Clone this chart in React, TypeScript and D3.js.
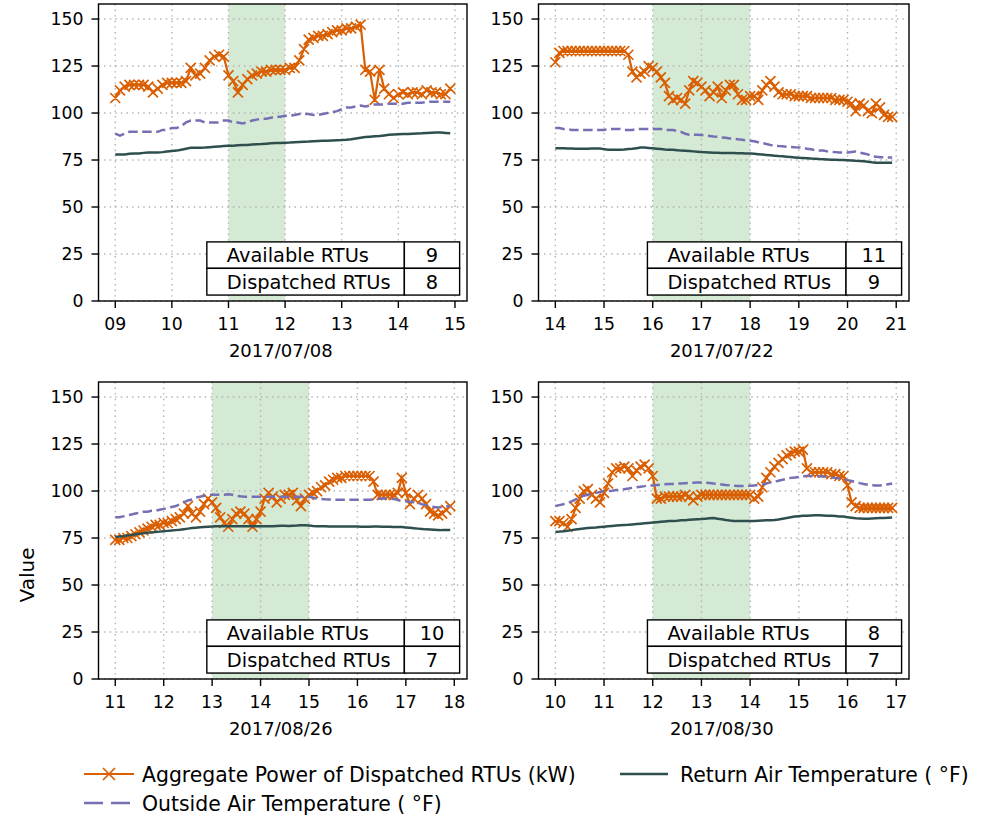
import React from "react";
import * as d3 from "d3";

// ---------- data ----------
const panelDates = ["2017/07/08", "2017/07/22", "2017/08/26", "2017/08/30"];
const startHours = [9, 14, 11, 10];
const xTickHours = [
  [9, 10, 11, 12, 13, 14, 15],
  [14, 15, 16, 17, 18, 19, 20, 21],
  [11, 12, 13, 14, 15, 16, 17, 18],
  [10, 11, 12, 13, 14, 15, 16, 17],
];
const xTickLabels = [
  ["09", "10", "11", "12", "13", "14", "15"],
  ["14", "15", "16", "17", "18", "19", "20", "21"],
  ["11", "12", "13", "14", "15", "16", "17", "18"],
  ["10", "11", "12", "13", "14", "15", "16", "17"],
];
const yTicks = [0, 25, 50, 75, 100, 125, 150];
const shadeStart = [11, 16, 13, 12];
const shadeEnd = [12, 18, 15, 14];
const availableRTUs = [9, 11, 10, 8];
const dispatchedRTUs = [8, 9, 7, 7];

// 5-minute samples
const power1 = [
  108, 112, 114, 115, 115, 115, 115, 114, 111, 113, 115, 116,
  116, 116, 116, 117, 124, 120, 121, 124, 128, 130, 131, 130,
  120, 117, 111, 115, 118, 120, 121, 122, 122, 123, 123, 123,
  123, 124, 124, 128, 134, 139, 140, 141, 141, 142, 143, 144,
  144, 145, 145, 146, 147, 123, 122, 107, 123, 113, 110, 108,
  110, 111, 110, 111, 111, 110, 112, 111, 111, 110, 110, 113,
];
const outside1 = [
  89, 88, 89, 90, 90, 90, 90, 90, 90, 90, 91, 91,
  92, 92, 93, 95, 96, 96, 96, 95, 95, 95, 95, 96,
  96, 95, 95, 94.5, 95, 96, 96.5, 97, 97, 97.5, 98, 98,
  98.5, 98.5, 99, 99.5, 99.5, 99.5, 99, 99, 99.5, 100, 100.5, 101,
  102, 103, 103, 103.5, 104, 103.5, 104, 104.5, 104.5, 104.5, 105, 105,
  105, 105, 105.5, 105.5, 105.5, 105.5, 106, 106, 106, 106, 106, 106,
];
const return1 = [
  78, 78, 78, 78.3, 78.5, 78.5, 78.8, 79, 79, 79, 79.2, 79.5,
  79.8, 80, 80.5, 81, 81.5, 81.5, 81.5, 81.6, 81.8, 82, 82.2, 82.4,
  82.6, 82.6, 82.8, 83, 83, 83.2, 83.4, 83.5, 83.7, 83.9, 84, 84.1,
  84.2, 84.3, 84.5, 84.6, 84.7, 84.8, 85, 85.1, 85.2, 85.3, 85.4, 85.5,
  85.6, 85.8, 86.1, 86.5, 86.9, 87.2, 87.4, 87.6, 87.8, 88.1, 88.4, 88.6,
  88.7, 88.8, 88.9, 89, 89.1, 89.2, 89.4, 89.5, 89.6, 89.6, 89.4, 89.2,
];

const power2 = [
  127, 132, 133, 133, 133, 133, 133, 133, 133, 133, 133, 133,
  133, 133, 133, 133, 133, 133, 131, 122, 119, 121, 122, 125,
  124, 122, 119, 116, 109, 107, 108, 107, 105, 112, 117, 116,
  114, 112, 109, 111, 114, 108, 112, 115, 115, 110, 107, 107,
  109, 109, 107, 112, 115, 117, 114, 111, 110, 110, 110, 109,
  109, 109, 109, 108, 108, 108, 108, 108, 108, 107, 107, 107,
  106, 105, 101, 105, 104, 101, 100, 105, 103, 99, 98, 98,
];
const outside2 = [
  92, 92, 91.5, 91.5, 91, 91, 91, 91, 91, 91, 91, 91,
  91, 91.5, 91.5, 91.5, 91.5, 91, 91, 91, 91.5, 91.5, 91.5, 91.5,
  91.5, 91.5, 91.5, 91, 91, 91, 90.5, 90, 89, 88.5, 88.5, 88.5,
  88.3, 88, 87.8, 87.5, 87.3, 87, 86.8, 86.5, 86.3, 86, 85.8, 85.5,
  85.3, 85, 84.5, 84, 83.5, 83, 82.8, 82.5, 82.3, 82, 82, 81.8,
  81.7, 81.5, 81, 80.7, 80.3, 80, 80, 79.6, 79.3, 79.2, 79, 79,
  79, 79.3, 79.5, 79, 78.5, 78, 77, 76.8, 76.5, 76.5, 76.3, 76.3,
];
const return2 = [
  81.2, 81.2, 81.2, 81.1, 81.1, 81, 81, 81, 81, 81.1, 81.1, 81.1,
  80.8, 80.5, 80.4, 80.4, 80.5, 80.6, 80.8, 81, 81.3, 81.6, 81.6, 81.4,
  81.2, 81, 80.8, 80.6, 80.5, 80.4, 80.2, 80, 79.9, 79.8, 79.6, 79.4,
  79.2, 79.1, 79, 78.9, 78.9, 78.8, 78.8, 78.7, 78.7, 78.6, 78.6, 78.5,
  78.5, 78.3, 78.1, 77.9, 77.7, 77.5, 77.3, 77.1, 77, 76.8, 76.6, 76.4,
  76.2, 76.1, 76, 75.8, 75.7, 75.5, 75.4, 75.3, 75.2, 75.1, 75, 75,
  74.9, 74.8, 74.6, 74.5, 74.3, 74.1, 73.8, 73.6, 73.5, 73.5, 73.6, 73.6,
];

const power3 = [
  74, 74, 75, 75, 76, 77, 78, 79, 80, 81, 82, 82,
  83, 83, 84, 85, 86, 88, 92, 88, 86, 89, 93, 96,
  94, 91, 86, 83, 81, 85, 88, 89, 88, 85, 81, 85,
  89, 96, 99, 97, 94, 96, 98, 98, 99, 95, 92, 96,
  98, 99, 100, 102, 103, 105, 106, 107, 107, 108, 108, 108,
  108, 108, 108, 108, 105, 98, 98, 98, 98, 98, 99, 107,
  99, 93, 96, 98, 96, 93, 89, 88, 87, 88, 90, 92,
];
const outside3 = [
  86, 86, 86.5, 87, 87.5, 88, 88.5, 89, 89, 89.5, 89.5, 90,
  90.5, 91, 91.5, 92, 93, 94, 95, 95.5, 96.5, 97, 97.5, 98,
  98, 98, 98, 98, 98.3, 98, 97.5, 97.2, 97, 97, 97, 97,
  97, 97, 97, 97, 97, 97, 97, 97, 97, 97, 97, 97,
  97, 96.5, 96, 95.8, 95.6, 95.5, 95.4, 95.3, 95.3, 95.3, 95.3, 95.3,
  95.3, 95.3, 95.3, 95.3, 95.5, 95.8, 96, 96, 96, 95.8, 95.2, 94.7,
  94.5, 94.3, 94, 93.8, 93, 92.5, 92, 91.5, 91.2, 91.5, 91.8, 92,
];
const return3 = [
  75.5, 75.8, 76, 76.3, 76.6, 77, 77.3, 77.5, 77.8, 78, 78.2, 78.4,
  78.6, 78.8, 79, 79.2, 79.4, 79.7, 80, 80.3, 80.5, 80.7, 80.9, 81,
  81.1, 81.2, 81.2, 81.3, 81.3, 81.3, 81.3, 81.2, 81.2, 81.2, 81.3, 81.3,
  81.3, 81.2, 81.2, 81.3, 81.4, 81.5, 81.5, 81.4, 81.5, 81.6, 81.8, 81.8,
  81.6, 81.4, 81.3, 81.2, 81.2, 81.1, 81.1, 81.1, 81.1, 81.1, 81.1, 81.1,
  81.1, 81, 81, 81, 81.1, 81.1, 81, 81, 81, 80.9, 80.8, 80.8,
  80.6, 80.4, 80.2, 80, 79.8, 79.6, 79.5, 79.4, 79.3, 79.2, 79.2, 79.2,
];

const power4 = [
  84, 84, 83, 81, 85, 91, 96, 100, 101, 98, 96, 94,
  99, 104, 110, 112, 112, 113, 112, 108, 111, 113, 114, 112,
  108, 96, 96, 97, 97, 97, 97, 97, 98, 97, 95, 97,
  98, 98, 98, 98, 98, 98, 98, 98, 98, 98, 98, 98,
  98, 96, 97, 102, 107, 110, 113, 115, 117, 119, 120, 121,
  121, 122, 112, 110, 110, 110, 110, 110, 109, 109, 108, 108,
  103, 94, 92, 91, 91, 91, 91, 91, 91, 91, 91, 91,
];
const outside4 = [
  92, 92.5, 93, 93.5, 94.5, 95.5, 96.5, 97.5, 98, 98.5, 99, 99.5,
  100, 100, 100.2, 100.5, 100.7, 101, 101.3, 101.7, 102, 102.3, 102.6, 103,
  103, 103.2, 103.4, 103.6, 103.7, 103.8, 104, 104, 104.2, 104.3, 104.4, 104.5,
  104.6, 104.5, 104.3, 104, 103.8, 103.5, 103.2, 103, 102.8, 102.7, 102.7, 102.7,
  102.8, 103, 103.2, 103.5, 104, 104.6, 105, 105.5, 106, 106.5, 107, 107.2,
  107.5, 107.8, 108, 108, 108, 107.8, 107.7, 107.5, 107.2, 107, 106.6, 106.3,
  105.8, 105.3, 104.8, 104.2, 103.7, 103.3, 103.1, 103, 103, 103.2, 103.6, 104,
];
const return4 = [
  78.2, 78.4, 78.6, 78.9, 79.2, 79.5, 79.8, 80.1, 80.3, 80.5, 80.6, 80.8,
  81, 81.2, 81.4, 81.6, 81.8, 81.9, 82, 82.2, 82.4, 82.6, 82.8, 83,
  83.2, 83.4, 83.6, 83.8, 84, 84.1, 84.2, 84.4, 84.5, 84.7, 84.9, 85,
  85.1, 85.3, 85.5, 85.6, 85.3, 85, 84.6, 84.3, 84.1, 84, 84, 84,
  84, 84.1, 84.2, 84.3, 84.4, 84.5, 84.6, 84.8, 85.2, 85.6, 86, 86.4,
  86.6, 86.8, 86.9, 87, 87.1, 87.1, 87, 86.9, 86.8, 86.7, 86.5, 86.4,
  86.1, 85.8, 85.5, 85.4, 85.3, 85.3, 85.4, 85.5, 85.6, 85.7, 85.8, 85.9,
];

const powerSeries = [power1, power2, power3, power4];
const outsideSeries = [outside1, outside2, outside3, outside4];
const returnSeries = [return1, return2, return3, return4];

const legendLabels = [
  "Aggregate Power of Dispatched RTUs (kW)",
  "Outside Air Temperature ( \u00B0F)",
  "Return Air Temperature ( \u00B0F)",
];

// ---------- styles ----------
const FONT = "DejaVu Sans, sans-serif";
const FS_TICK = 17.3;
const FS_DATE = 18;
const FS_TABLE = 19.4;
const FS_LEGEND = 20.4;
const FS_YLABEL = 20;
const C_POWER = "#d95f02";
const C_OUT = "#7570b3";
const C_RET = "#2f4f4f";
const C_SHADE = "rgb(213,234,212)";
const C_GRID = "#b0b0b0";

const W = 986;
const H = 817;
const panels = [
  { left: 98.5, top: 4, width: 368.5, height: 297 },
  { left: 538.5, top: 4, width: 370.5, height: 297 },
  { left: 98.5, top: 382, width: 368.5, height: 297 },
  { left: 538.5, top: 382, width: 370.5, height: 297 },
];

function xMark(cx: number, cy: number, r: number) {
  return `M${cx - r},${cy - r}L${cx + r},${cy + r}M${cx - r},${cy + r}L${cx + r},${cy - r}`;
}

function Panel({ idx }: { idx: number }) {
  const p = panels[idx];
  const n = powerSeries[idx].length;
  const times = d3.range(n).map((i) => startHours[idx] + (i * 5) / 60);
  const t0 = times[0];
  const t1 = times[n - 1];
  const m = (t1 - t0) * 0.05;
  const x = d3.scaleLinear().domain([t0 - m, t1 + m]).range([p.left, p.left + p.width]);
  const y = d3.scaleLinear().domain([0, 158]).range([p.top + p.height, p.top]);
  const line = d3
    .line<number>()
    .x((_, i) => x(times[i]))
    .y((d) => y(d));
  const bottom = p.top + p.height;
  const right = p.left + p.width;

  const tx0 = p.left + 0.294 * p.width;
  const tx1 = p.left + 0.83 * p.width;
  const tx2 = p.left + 0.98 * p.width;
  const ty0 = bottom - 0.199 * p.height;
  const ty1 = bottom - 0.11 * p.height;
  const ty2 = bottom - 0.02 * p.height;

  const clipId = `clip${idx}`;
  return (
    <g>
      <defs>
        <clipPath id={clipId}>
          <rect x={p.left} y={p.top} width={p.width} height={p.height} />
        </clipPath>
      </defs>
      <rect
        x={x(shadeStart[idx])}
        y={p.top}
        width={x(shadeEnd[idx]) - x(shadeStart[idx])}
        height={p.height}
        fill={C_SHADE}
      />
      {xTickHours[idx].map((h) => (
        <line
          key={"gx" + h}
          x1={x(h)}
          x2={x(h)}
          y1={p.top}
          y2={bottom}
          stroke={C_GRID}
          strokeWidth={1.4}
          strokeDasharray="1.4,4.2"
        />
      ))}
      {yTicks.map((v) => (
        <line
          key={"gy" + v}
          x1={p.left}
          x2={right}
          y1={y(v)}
          y2={y(v)}
          stroke={C_GRID}
          strokeWidth={1.4}
          strokeDasharray="1.4,4.2"
        />
      ))}
      <g clipPath={`url(#${clipId})`}>
        <path d={line(powerSeries[idx]) || ""} fill="none" stroke={C_POWER} strokeWidth={2.2} />
        <path
          d={powerSeries[idx].map((v, i) => xMark(x(times[i]), y(v), 5)).join("")}
          fill="none"
          stroke={C_POWER}
          strokeWidth={1.7}
        />
        <path
          d={line(outsideSeries[idx]) || ""}
          fill="none"
          stroke={C_OUT}
          strokeWidth={2.5}
          strokeDasharray="9.5,4.5"
        />
        <path d={line(returnSeries[idx]) || ""} fill="none" stroke={C_RET} strokeWidth={2.5} />
      </g>
      <g fill="white" stroke="black" strokeWidth={1.4}>
        <rect x={tx0} y={ty0} width={tx1 - tx0} height={ty1 - ty0} />
        <rect x={tx1} y={ty0} width={tx2 - tx1} height={ty1 - ty0} />
        <rect x={tx0} y={ty1} width={tx1 - tx0} height={ty2 - ty1} />
        <rect x={tx1} y={ty1} width={tx2 - tx1} height={ty2 - ty1} />
      </g>
      <g fontFamily={FONT} fontSize={FS_TABLE} fill="black">
        <text x={tx0 + 20} y={(ty0 + ty1) / 2 + 7}>Available RTUs</text>
        <text x={tx0 + 20} y={(ty1 + ty2) / 2 + 7}>Dispatched RTUs</text>
        <text x={(tx1 + tx2) / 2} y={(ty0 + ty1) / 2 + 7} textAnchor="middle">
          {availableRTUs[idx]}
        </text>
        <text x={(tx1 + tx2) / 2} y={(ty1 + ty2) / 2 + 7} textAnchor="middle">
          {dispatchedRTUs[idx]}
        </text>
      </g>
      <rect x={p.left} y={p.top} width={p.width} height={p.height} fill="none" stroke="black" strokeWidth={1.4} />
      {yTicks.map((v) => (
        <g key={"yt" + v}>
          <line x1={p.left - 7} x2={p.left} y1={y(v)} y2={y(v)} stroke="black" strokeWidth={1.4} />
          <text x={p.left - 15} y={y(v) + 6} textAnchor="end" fontFamily={FONT} fontSize={FS_TICK}>
            {v}
          </text>
        </g>
      ))}
      {xTickHours[idx].map((h, i) => (
        <g key={"xt" + h}>
          <line x1={x(h)} x2={x(h)} y1={bottom} y2={bottom + 7} stroke="black" strokeWidth={1.4} />
          <text x={x(h)} y={bottom + 29} textAnchor="middle" fontFamily={FONT} fontSize={FS_TICK}>
            {xTickLabels[idx][i]}
          </text>
        </g>
      ))}
      <text
        x={p.left + p.width / 2 - 2}
        y={bottom + 56}
        textAnchor="middle"
        fontFamily={FONT}
        fontSize={FS_DATE}
      >
        {panelDates[idx]}
      </text>
    </g>
  );
}

export default function App() {
  return (
    <svg
      width={W}
      height={H}
      viewBox={`0 0 ${W} ${H}`}
      style={{ position: "absolute", left: 0, top: 0, background: "white" }}
    >
      <rect width={W} height={H} fill="white" />
      {[0, 1, 2, 3].map((i) => (
        <Panel key={i} idx={i} />
      ))}
      <text
        transform="translate(34,575) rotate(-90)"
        textAnchor="middle"
        fontFamily={FONT}
        fontSize={FS_YLABEL}
      >
        Value
      </text>
      <g fontFamily={FONT} fontSize={FS_LEGEND}>
        <line x1={84} x2={134} y1={774} y2={774} stroke={C_POWER} strokeWidth={2.2} />
        <path d={xMark(109, 774, 6)} stroke={C_POWER} strokeWidth={1.7} fill="none" />
        <text x={142} y={781.5}>{legendLabels[0]}</text>
        <line
          x1={84}
          x2={134}
          y1={803}
          y2={803}
          stroke={C_OUT}
          strokeWidth={2.5}
          strokeDasharray="19,8"
        />
        <text x={142} y={810.5}>{legendLabels[1]}</text>
        <line x1={620} x2={668} y1={774} y2={774} stroke={C_RET} strokeWidth={2.5} />
        <text x={680} y={781.5}>{legendLabels[2]}</text>
      </g>
    </svg>
  );
}
